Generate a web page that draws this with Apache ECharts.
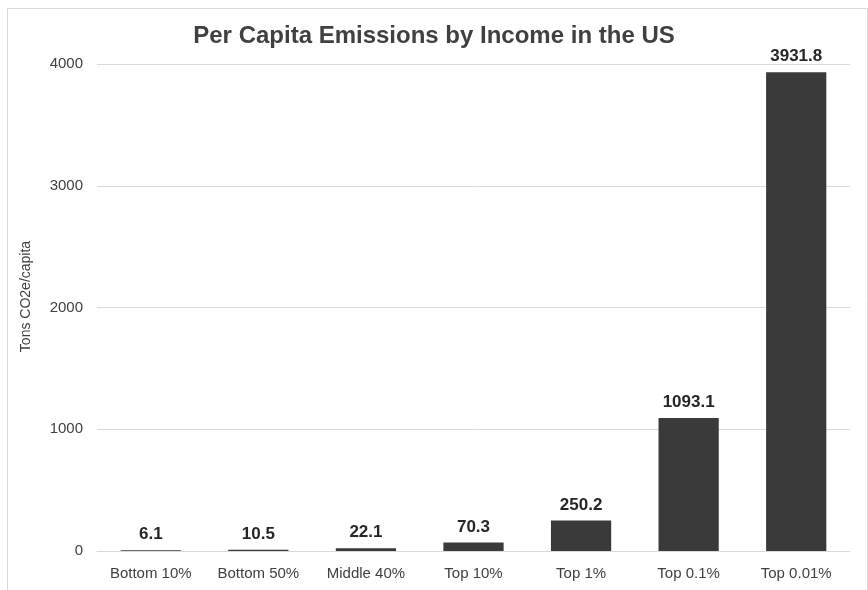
<!DOCTYPE html>
<html>
<head>
<meta charset="utf-8">
<script src="https://cdn.jsdelivr.net/npm/echarts@6/dist/echarts.min.js"></script>
<style>html,body{margin:0;padding:0;background:#fff}#c{width:868px;height:590px}</style>
</head>
<body>
<div id="c"></div>
<script>
const categories = ["Bottom 10%", "Bottom 50%", "Middle 40%", "Top 10%", "Top 1%", "Top 0.1%", "Top 0.01%"];
const values = [6.1, 10.5, 22.1, 70.3, 250.2, 1093.1, 3931.8];
const yTicks = [0, 1000, 2000, 3000, 4000];

const chart = echarts.init(document.getElementById('c'), null, {renderer: 'canvas'});
chart.setOption({
  animation: false,
  backgroundColor: '#fff',
  textStyle: {fontFamily: 'Liberation Sans, Arial, sans-serif'},
  graphic: [{
    type: 'rect', left: 5, top: 6,
    shape: {width: 860, height: 600},
    style: {fill: 'none', stroke: '#d9d9d9', lineWidth: 1}
  }],
  title: {
    text: 'Per Capita Emissions by Income in the US',
    left: 'center', top: 19,
    textStyle: {fontSize: 24, fontWeight: 'bold', color: '#404040', fontFamily: 'Liberation Sans, Arial, sans-serif'}
  },
  grid: {left: 97, right: 18, top: 64, bottom: 39},
  xAxis: {
    type: 'category', data: categories,
    axisTick: {show: false},
    axisLine: {lineStyle: {color: '#d9d9d9', width: 1}},
    axisLabel: {color: '#404040', fontSize: 15, margin: 15}
  },
  yAxis: {
    type: 'value', min: yTicks[0], max: yTicks[yTicks.length - 1], interval: 1000,
    name: 'Tons CO2e/capita', nameLocation: 'middle', nameGap: 64,
    nameTextStyle: {color: '#404040', fontSize: 14, padding: [0, 0, 0, 22]},
    axisLine: {show: false}, axisTick: {show: false},
    axisLabel: {color: '#404040', fontSize: 15, margin: 14, formatter: v => String(v)},
    splitLine: {lineStyle: {color: '#d9d9d9', width: 1}}
  },
  series: [{
    type: 'bar', data: values,
    barWidth: '56%',
    itemStyle: {color: '#3a3a3a'},
    label: {show: true, position: 'top', distance: 7, color: '#262626', fontSize: 17, fontWeight: 'bold',
      formatter: p => p.value.toFixed(1)}
  }]
});
</script>
</body>
</html>
